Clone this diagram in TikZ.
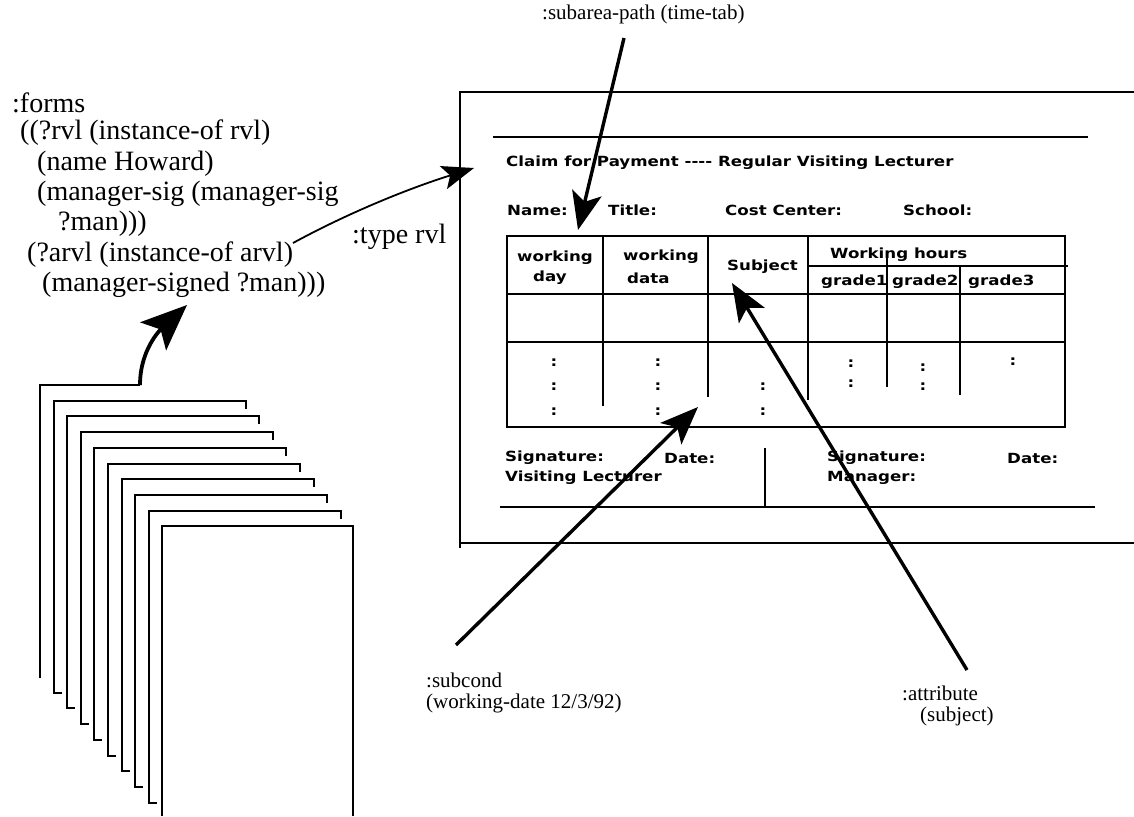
\documentclass[tikz,border=0pt]{standalone}
\usepackage{fontspec}
\setmainfont{Liberation Serif}
\newfontfamily\formfont[FakeStretch=1.19]{DejaVu Sans}
\usetikzlibrary{arrows.meta}

\tikzset{
  lisp/.style={anchor=west, inner sep=0pt, font=\fontsize{28}{30}\selectfont},
  note/.style={anchor=west, inner sep=0pt, font=\fontsize{21}{23}\selectfont},
  formtxt/.style={anchor=west, inner sep=0pt, font=\formfont\bfseries\fontsize{14}{15}\selectfont},
  rule/.style={line width=1.6pt},
  sheet/.style={line width=2pt},
  pointer/.style={line width=3.4pt, -{Stealth[length=38pt,width=30pt,inset=9pt]}},
}

\begin{document}
\begin{tikzpicture}[x=1pt, y=-1pt]
\useasboundingbox (0,0) rectangle (1134,816);

% rule on the left
\node[lisp] (forms) at (12,103) {:forms};
\node[lisp] (rvl) at (20,133) {((?rvl (instance-of rvl)};
\node[lisp] (name) at (37,164) {(name Howard)};
\node[lisp] (msig) at (37,194) {(manager-sig (manager-sig};
\node[lisp] (man) at (58,224) {?man)))};
\node[lisp] (arvl) at (27,255) {(?arvl (instance-of arvl)};
\node[lisp] (msigned) at (42,285) {(manager-signed ?man)))};
\node[lisp] (typelbl) at (352,237) {:type rvl};

% pile of forms
\draw[sheet] (140,385) -- (40,385) -- (40,678);
\foreach \i in {1,...,8} {
  \pgfmathsetmacro{\sx}{40+13.6*\i}
  \pgfmathsetmacro{\sy}{385+15.7*\i}
  \draw[sheet] (\sx+192,\sy+8) -- (\sx+192,\sy) -- (\sx,\sy) -- (\sx,\sy+292) -- (\sx+8,\sy+292);
}
\draw[sheet] (162,816) -- (162,526) -- (353,526) -- (353,816);
\coordinate (stacktop) at (140,385);
\coordinate (rulein) at (187,305);

% the form
\draw[rule] (1134,92) -- (460,92) -- (460,548);
\draw[rule] (460,543) -- (1134,543);
\draw[rule] (493,137) -- (1088,137);
\node[formtxt] (claim) at (506,163) {Claim for Payment ---- Regular Visiting Lecturer};
\node[formtxt] (fname) at (507,210) {Name:};
\node[formtxt] (ftitle) at (608,210) {Title:};
\node[formtxt] (fcost) at (725,210) {Cost Center:};
\node[formtxt] (fschool) at (903,210) {School:};

% time table
\draw[rule] (507,236) rectangle (1065,427);
\draw[rule] (507,294) -- (1065,294);
\draw[rule] (507,342) -- (1065,342);
\draw[rule] (808,266) -- (1068,266);
\draw[rule] (603,236) -- (603,406);
\draw[rule] (708,236) -- (708,397);
\draw[rule] (808,236) -- (808,400);
\draw[rule] (887,258) -- (887,387);
\draw[rule] (960,266) -- (960,395);
\node[formtxt] (wday) at (517,258) {working};
\node[formtxt] (wday2) at (533,278) {day};
\node[formtxt] (wdate) at (623,257) {working};
\node[formtxt] (wdate2) at (627,278) {data};
\node[formtxt] (subj) at (727,267) {Subject};
\node[formtxt] (hours) at (830,255) {Working hours};
\node[formtxt] (g1) at (821,282) {grade1};
\node[formtxt] (g2) at (892,282) {grade2};
\node[formtxt] (g3) at (968,282) {grade3};
\foreach \cx/\cy in {554/363, 554/387, 554/412, 658/363, 658/387, 658/412,
                     763/387, 763/412, 851/364, 851/384, 923/368, 923/387, 1013/362}
  \node[formtxt, anchor=center] at (\cx,\cy) {:};

% signatures
\node[formtxt] (sig1) at (505,458) {Signature:};
\node[formtxt] (date1) at (664,458) {Date:};
\node[formtxt] (lect) at (505,478) {Visiting Lecturer};
\node[formtxt] (sig2) at (827,458) {Signature:};
\node[formtxt] (date2) at (1007,458) {Date:};
\node[formtxt] (mgr) at (827,478) {Manager:};
\draw[rule] (765,448) -- (765,507);
\draw[rule] (500,507) -- (1095,507);

% labels and arrows
\node[note] (subarea) at (542,14) {:subarea-path (time-tab)};
\node[note] (subcond) at (426,680) {:subcond};
\node[note] (subcondval) at (426,703) {(working-date 12/3/92)};
\node[note] (attr) at (902,693) {:attribute};
\node[note] (attrval) at (920,716) {(subject)};
\coordinate (subareafoot) at (624,38);
\coordinate (tabtip) at (578,230);
\coordinate (subcondfoot) at (456,645);
\coordinate (datetip) at (698,407);
\coordinate (attrfoot) at (967,670);
\coordinate (subjtip) at (732,283);
\coordinate (typefoot) at (293,243);
\coordinate (formtip) at (474,168);

\draw[pointer] (subareafoot) -- (tabtip);
\draw[pointer] (subcondfoot) -- (datetip);
\draw[pointer] (attrfoot) -- (subjtip);
\draw[pointer, line width=3.8pt, -{Stealth[length=46pt,width=38pt,inset=10pt]}]
  (stacktop) .. controls (140,350) and (160,330) .. (rulein);
\draw[line width=1.8pt, -{Stealth[length=32pt,width=24pt,inset=7pt]}]
  (typefoot) .. controls (350,212) and (410,188) .. (formtip);
\end{tikzpicture}
\end{document}
